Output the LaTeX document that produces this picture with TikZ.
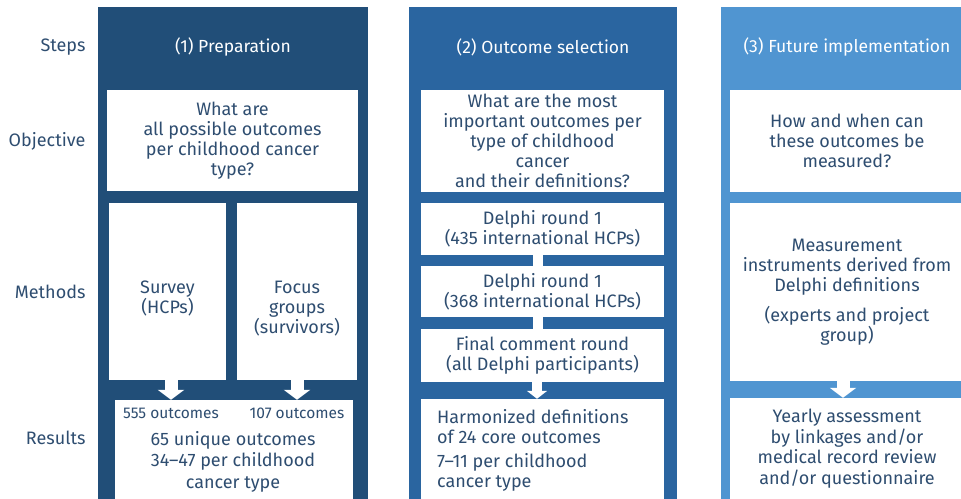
\documentclass[tikz,border=0pt]{standalone}
\usepackage{fontspec}
\setmainfont{Fira Sans}
\usetikzlibrary{positioning,arrows.meta}

\definecolor{prepblue}{HTML}{214E78}
\definecolor{selblue}{HTML}{2A65A0}
\definecolor{implblue}{HTML}{5095D1}
\definecolor{inkblue}{HTML}{2E4D70}

\newcommand{\boxfont}{\fontsize{18}{20}\selectfont}
\newcommand{\smallboxfont}{\fontsize{15.5}{16}\selectfont}

\tikzset{
    rowlabel/.style={anchor=east, text=inkblue, font=\boxfont},
    steptitle/.style={text=white, font=\fontsize{17.5}{20}\selectfont},
    wbox/.style={fill=white, draw=none, inner sep=0pt, align=center, text=inkblue, font=\boxfont},
    boxtext/.style={align=center, text=inkblue, font=\boxfont, inner sep=0pt},
    fatarrow/.style={white, line width=13pt, -{Triangle[width=26pt,length=10pt]}},
    thinarrow/.style={white, line width=10pt, -{Triangle[width=20pt,length=8pt]}},
    linkbar/.style={white, line width=10pt},
}

\begin{document}
\begin{tikzpicture}[x=1pt, y=-1pt]
    \useasboundingbox (0,0) rectangle (961,498);
    \clip (0,0) rectangle (961,498);

    % row labels
    \node[rowlabel] (lsteps) at (89,47) {Steps};
    \node[rowlabel] (lobj) at (89,141) {Objective};
    \node[rowlabel] (lmeth) at (89,292) {Methods};
    \node[rowlabel] (lres) at (89,438) {Results};

    % column backgrounds
    \fill[prepblue] (98,7) rectangle (368,510);
    \fill[selblue] (409,7) rectangle (677,510);
    \fill[implblue] (721,7) rectangle (975,510);

    \node[steptitle] (t1) at (233,47) {(1) Preparation};
    \node[steptitle] (t2) at (543,47) {(2) Outcome selection};
    \node[steptitle] (t3) at (847,47) {(3) Future implementation};

    % (1) preparation
    \node[wbox, minimum width=251pt, minimum height=101pt] (obj1) at (232.5,140.5)
        {What are\\all possible outcomes\\per childhood cancer\\type?};
    \node[wbox, minimum width=117pt, minimum height=177pt] (survey) at (167.5,291.5) {};
    \node[wbox, minimum width=120pt, minimum height=177pt] (focus) at (297,291.5) {};
    \node[boxtext, anchor=north] (surveytxt) at (167.5,281) {Survey\\(HCPs)};
    \node[boxtext, anchor=north] (focustxt) at (297,281) {Focus\\groups\\(survivors)};
    \node[wbox, minimum width=238pt, minimum height=110pt] (res1) at (234,455) {};
    \node[boxtext, font=\smallboxfont] (n555) at (171,413.5) {555 outcomes};
    \node[boxtext, font=\smallboxfont] (n107) at (297,413.5) {107 outcomes};
    \node[boxtext, anchor=north, font=\fontsize{18}{21.5}\selectfont] (res1txt) at (233,431)
        {65 unique outcomes\\34--47 per childhood\\cancer type};
    \draw[fatarrow] (survey.south -| n555) -- (n555 |- res1.north);
    \draw[fatarrow] (focus.south) -- (focus.south |- res1.north);

    % (2) outcome selection
    \node[wbox, minimum width=243pt, minimum height=102pt] (obj2) at (542.5,141)
        {What are the most\\important outcomes per\\type of childhood\\cancer\\and their definitions?};
    \node[wbox, minimum width=243pt, minimum height=52pt] (delphi1) at (542.5,229)
        {Delphi round 1\\(435 international HCPs)};
    \node[wbox, minimum width=243pt, minimum height=51pt] (delphi2) at (542.5,291.5)
        {Delphi round 1\\(368 international HCPs)};
    \node[wbox, minimum width=243pt, minimum height=53pt] (final) at (542.5,355.5)
        {Final comment round\\(all Delphi participants)};
    \node[wbox, minimum width=243pt, minimum height=111pt] (res2) at (542.5,454.5) {};
    \node[boxtext, anchor=north west, align=left] (res2a) at (437,409)
        {Harmonized definitions\\of 24 core outcomes};
    \node[boxtext, anchor=north west, align=left] (res2b) at (437,453)
        {7--11 per childhood\\cancer type};
    \draw[linkbar] ([xshift=-4.5pt]delphi1.south) -- ([xshift=-4.5pt]delphi2.north);
    \draw[linkbar] ([xshift=-4.5pt]delphi2.south) -- ([xshift=-4.5pt]final.north);
    \draw[thinarrow] ([xshift=-5.5pt]final.south) -- ([xshift=-5.5pt]res2.north);

    % (3) future implementation
    \node[wbox, minimum width=234pt, minimum height=102pt] (obj3) at (847,141)
        {How and when can\\these outcomes be\\measured?};
    \node[wbox, minimum width=234pt, minimum height=178pt] (measure) at (847,292) {};
    \node[boxtext, anchor=north] (measuretxt) at (847,239)
        {Measurement\\instruments derived from\\Delphi definitions};
    \node[boxtext, below=10pt of measuretxt] (experts) {(experts and project\\group)};
    \node[wbox, minimum width=234pt, minimum height=112pt] (res3) at (847,454) {};
    \node[boxtext, anchor=north, font=\fontsize{18}{20.5}\selectfont] (res3txt) at (847,409)
        {Yearly assessment\\by linkages and/or\\medical record review\\and/or questionnaire};
    \draw[fatarrow] ([xshift=-4pt]measure.south) -- ([xshift=-4pt]res3.north);
\end{tikzpicture}
\end{document}
